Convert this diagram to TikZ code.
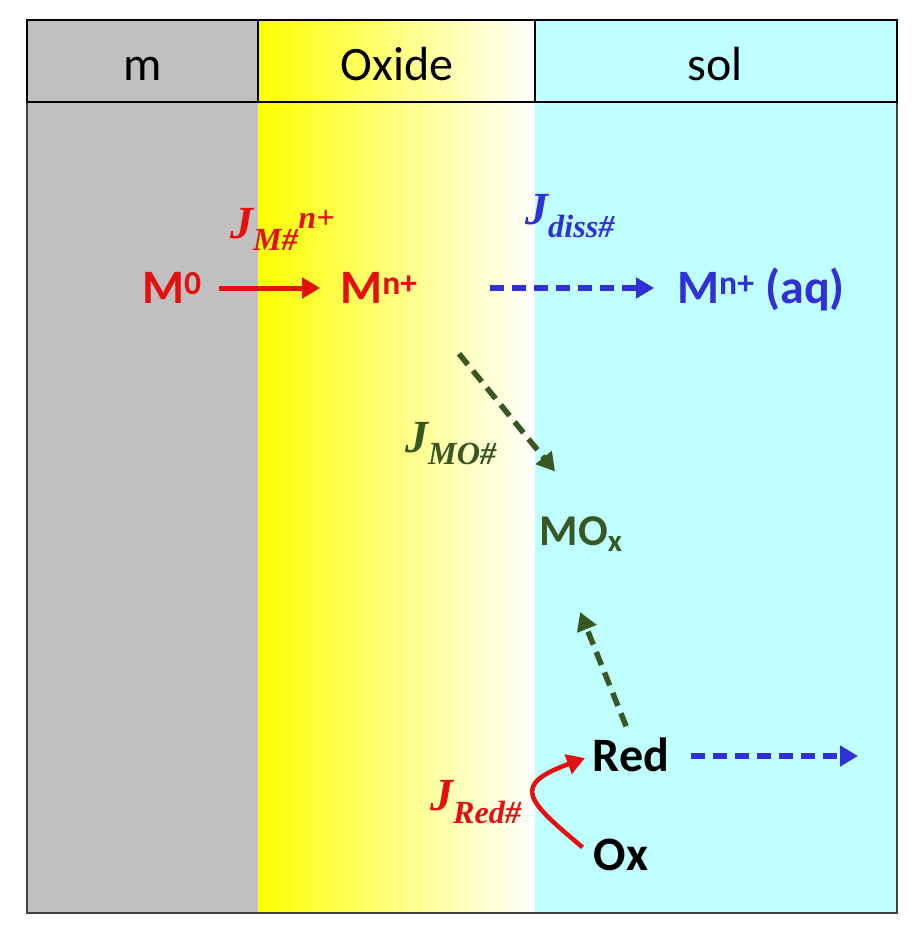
\documentclass[tikz,border=0pt]{standalone}
\usepackage{fontspec}
\setmainfont{Carlito}
\newfontfamily\fluxfont{Liberation Serif}
\usepackage{tikz}
\usetikzlibrary{arrows.meta}
\definecolor{metalgrey}{RGB}{192,192,192}
\definecolor{solcyan}{RGB}{192,255,255}
\definecolor{fluxred}{RGB}{228,16,16}
\definecolor{fluxblue}{RGB}{48,48,214}
\definecolor{fluxgreen}{RGB}{56,87,35}

\begin{document}
\begin{tikzpicture}[x=1pt,y=-1pt,
            phase/.style={font=\fontsize{48}{52}\selectfont,anchor=base},
            species/.style={font=\fontsize{48}{52}\selectfont\bfseries,inner sep=2pt,text height=31pt,text depth=0pt},
            flux/.style={font=\fluxfont\fontsize{46}{50}\selectfont\bfseries\itshape,anchor=base west,inner sep=0pt},
            solid arrow/.style={line width=5pt,-{Triangle[length=18pt,width=20pt]}},
            dashed arrow/.style={line width=5.5pt,dash pattern=on 14pt off 8pt,-{Triangle[length=18pt,width=20pt]}}]
            \useasboundingbox (0,0) rectangle (923,929);
            \fill[metalgrey] (27,20) rectangle (258,913);
            \shade[left color=yellow,right color=white] (258,20) rectangle (535,913);
            \fill[solcyan] (535,20) rectangle (897,913);
            \draw[black!75,line width=1.5pt] (27,102) rectangle (897,913);
            \draw[line width=2.5pt] (27,20) rectangle (897,102);
            \draw[line width=2pt] (258,20) -- (258,102) (535,20) -- (535,102);

            \node[phase] (metal) at (143,80) {m};
            \node[phase] (oxide) at (397,80) {Oxide};
            \node[phase] (sol) at (715,80) {sol};

            \node[species,text=fluxred] (M0) at (172,288) {M\textsuperscript{0}};
            \node[species,text=fluxred] (Mn) at (379,288) {M\textsuperscript{n+}};
            \node[species,text=fluxblue] (Mnaq) at (761,288) {M\textsuperscript{n+} (aq)};
            \node[species,text=fluxgreen,font=\fontsize{44}{48}\selectfont\bfseries,text height=28pt] (MOx) at (581,531) {MO\textsubscript{x}};
            \node[species] (Red) at (631,756) {Red};
            \node[species] (Ox) at (621,855) {Ox};
            \coordinate (RedOut) at (858,756);

            \node[flux,text=fluxred] (JM) at (230,238) {J\textsubscript{M\#}\textsuperscript{n+}};
            \node[flux,text=fluxblue] (Jdiss) at (525,224) {J\textsubscript{diss\#}};
            \node[flux,text=fluxgreen] (JMO) at (405,452) {J\textsubscript{MO\#}};
            \node[flux,text=fluxred] (JRed) at (430,810) {J\textsubscript{Red\#}};

            \draw[solid arrow,fluxred,shorten <=15pt,shorten >=18pt] (M0) -- (Mn);
            \draw[dashed arrow,fluxblue,shorten <=70pt,shorten >=21pt] (Mn) -- (Mnaq);
            \draw[dashed arrow,fluxgreen,shorten <=62pt,shorten >=56pt] (Mn.south east) -- (MOx.60);
            \draw[dashed arrow,fluxgreen,shorten <=13pt,shorten >=70pt] (Red.north) -- (MOx.211);
            \draw[solid arrow,fluxred,line width=4.5pt,shorten <=12pt,shorten >=6pt] (Ox.west) to[out=140,in=200,looseness=2.2] (Red.west);
            \draw[dashed arrow,fluxblue,shorten <=20pt] (Red) -- (RedOut);
          \end{tikzpicture}
\end{document}
